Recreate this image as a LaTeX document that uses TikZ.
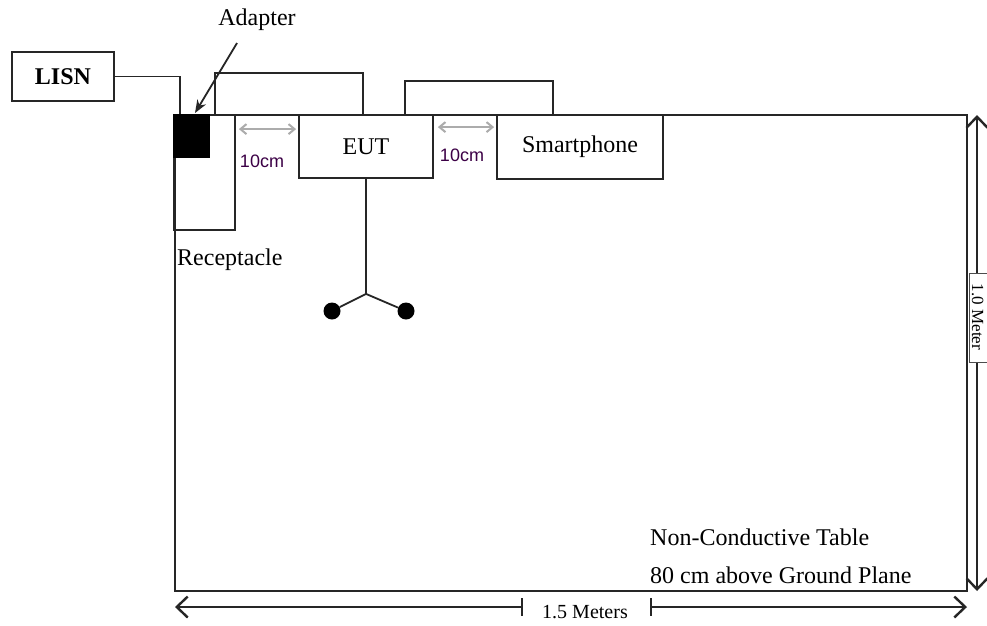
\documentclass[tikz,border=0pt]{standalone}
\usepackage{fontspec}
\setmainfont{Liberation Serif}
\newfontfamily\arialf{Liberation Sans}
\usetikzlibrary{arrows.meta,calc}
\definecolor{dimtext}{RGB}{60,0,70}
\begin{document}
\begin{tikzpicture}[x=1pt,y=-1pt,
  boxe/.style={draw=black!85, line width=1.8pt, inner sep=0pt, font=\fontsize{24}{28}\selectfont},
  txt/.style={inner sep=0pt, font=\fontsize{24}{28}\selectfont},
  smalltxt/.style={inner sep=0pt, font=\fontsize{20}{24}\selectfont},
  cmlabel/.style={inner sep=0pt, text=dimtext, font=\arialf\fontsize{18}{22}\selectfont},
  wire/.style={line width=1.8pt, draw=black!85},
  gap/.style={draw=gray!65, line width=2pt, {Straight Barb[length=6pt,width=10pt]}-{Straight Barb[length=6pt,width=10pt]}},
  dim/.style={line width=2.4pt, draw=black!85},
  barb/.tip={Straight Barb[length=11pt,width=21pt,line width=2.4pt]},
  dot/.style={circle, fill=black, inner sep=0pt, minimum size=17pt}
]
\useasboundingbox (0,0) rectangle (987,625);
\fill[white] (0,0) rectangle (987,625);

% table
\node[draw=black!85, line width=2.8pt, minimum width=792pt, minimum height=476pt, inner sep=0pt] (table) at (571,353) {};

% devices
\node[boxe, minimum width=102pt, minimum height=49pt] (lisn) at (63,76.5) {\textbf{LISN}};
\node[boxe, minimum width=61pt, minimum height=115pt] (recep) at (204.5,172.5) {};
\node[draw, fill=black, line width=1.3pt, inner sep=0pt, minimum width=35pt, minimum height=42pt] (adapter) at (191.5,136) {};
\node[boxe, fill=white, minimum width=134pt, minimum height=63pt] (eut) at (366,146.5) {EUT};
\node[boxe, fill=white, minimum width=166pt, minimum height=64pt] (phone) at (580,147) {Smartphone};

% cables
\draw[wire] (lisn.east) -| ([xshift=7pt]adapter.north west);
\draw[wire] ([xshift=42pt]recep.north west) -- ++(0,-41) -| ([xshift=-3pt]eut.north);
\draw[wire] ([xshift=39pt]eut.north) -- ++(0,-33) -| ([xshift=-27pt]phone.north);

% spacing arrows
\draw[gap] ($(recep.north east)+(3,15)$) -- ($(eut.north west)+(-2,15)$);
\draw[gap] ($(eut.north east)+(4,13)$) -- ($(phone.north west)+(-2,13)$);
\node[cmlabel] (l1) at (262,161) {10cm};
\node[cmlabel] (l2) at (462,155) {10cm};

% labels
\node[txt] (adl) at (257,20) {Adapter};
\coordinate (adtail) at (237,43);
\coordinate (adhead) at (195,113);
\draw[wire, -{Stealth[length=13pt,width=10pt]}] (adtail) -- (adhead);
\node[txt, anchor=west] (reclabel) at (177,260) {Receptacle};

% EUT cable with two ends
\coordinate (jn) at ($(eut.south)+(0,115)$);
\node[dot] (d1) at (332,311) {};
\node[dot] (d2) at (406,311) {};
\draw[wire] (eut.south) -- (jn) -- (d1);
\draw[wire] (jn) -- (d2);

% table text
\node[txt, anchor=west] (t1) at (650,537) {Non-Conductive Table};
\node[txt, anchor=west] (t2) at (650,575) {80 cm above Ground Plane};

% bottom dimension
\coordinate (bl) at (175,607);
\coordinate (bt1) at (522,607);
\coordinate (bt2) at (651,607);
\coordinate (br) at (967,607);
\node[smalltxt] (bm) at (585,612) {1.5 Meters};
\draw[dim, {barb}-] (bl) -- (bt1);
\draw[dim] ($(bt1)+(0,-9)$) -- ($(bt1)+(0,9)$);
\draw[dim, -{barb}] (bt2) -- (br);
\draw[dim] ($(bt2)+(0,-9)$) -- ($(bt2)+(0,9)$);

% right dimension
\coordinate (rt) at (977,115);
\coordinate (rg1) at (977,273);
\coordinate (rg2) at (977,362);
\coordinate (rb) at (977,591);
\draw[dim, {barb}-] (rt) -- (rg1);
\draw[dim, -{barb}] (rg2) -- (rb);
\draw[line width=1pt, draw=black!70] (995,273) -- (969,273) -- (969,362) -- (995,362);
\node[inner sep=0pt, font=\fontsize{17}{20}\selectfont, rotate=-90, anchor=base] (rm) at (972,317) {1.0 Meter};
\end{tikzpicture}
\end{document}
